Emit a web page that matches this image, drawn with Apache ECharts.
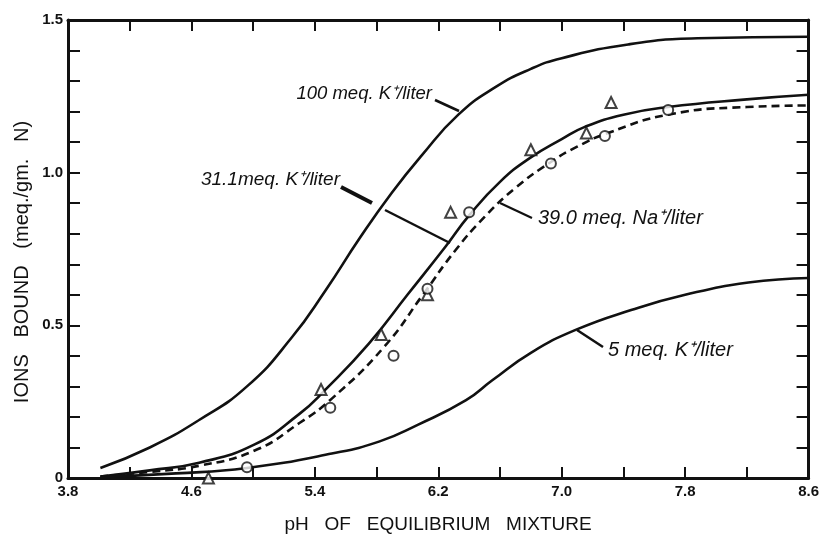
<!DOCTYPE html>
<html>
<head>
<meta charset="utf-8">
<script src="https://cdn.jsdelivr.net/npm/echarts@6/dist/echarts.min.js"></script>
<style>html,body{margin:0;padding:0;background:#fff;}#c{width:822px;height:535px;}</style>
</head>
<body>
<div id="c"></div>
<script>
// Axis ticks and labels
const xTickValues = [3.8, 4.2, 4.6, 5.0, 5.4, 5.8, 6.2, 6.6, 7.0, 7.4, 7.8, 8.2, 8.6];
const xLabelValues = [3.8, 4.6, 5.4, 6.2, 7.0, 7.8, 8.6];
const yTickValues = [0, 0.1, 0.2, 0.3, 0.4, 0.5, 0.6, 0.7, 0.8, 0.9, 1.0, 1.1, 1.2, 1.3, 1.4, 1.5];
const yLabelValues = [0, 0.5, 1.0, 1.5];

// Curve: 100 meq. K+/liter  [pH, ions bound]
const curveK100 = [[4.01,0.033],[4.33,0.10],[4.65,0.19],[4.96,0.30],[5.25,0.46],[5.47,0.615],[5.69,0.785],[5.90,0.935],[6.09,1.055],[6.33,1.19],[6.57,1.28],[6.8,1.34],[7.0,1.375],[7.43,1.42],[7.88,1.44],[8.6,1.445]];
// Curve: 31.1 meq. K+/liter
const curveK31 = [[4.01,0.005],[4.33,0.025],[4.65,0.05],[5.01,0.11],[5.30,0.21],[5.47,0.29],[5.75,0.44],[6.0,0.60],[6.25,0.76],[6.40,0.86],[6.60,0.97],[6.80,1.05],[7.0,1.11],[7.15,1.15],[7.40,1.19],[7.69,1.215],[8.2,1.24],[8.6,1.255]];
// Curve: 39.0 meq. Na+/liter (dashed)
const curveNa39 = [[4.01,0.005],[4.33,0.02],[4.65,0.04],[5.01,0.09],[5.30,0.18],[5.51,0.26],[5.85,0.43],[6.1,0.60],[6.31,0.745],[6.50,0.855],[6.70,0.95],[6.93,1.035],[7.10,1.085],[7.30,1.13],[7.69,1.19],[8.2,1.215],[8.6,1.22]];
// Curve: 5 meq. K+/liter
const curveK5 = [[4.01,0.003],[4.5,0.015],[4.96,0.033],[5.51,0.08],[5.82,0.12],[6.07,0.175],[6.38,0.255],[6.55,0.32],[6.8,0.41],[7.09,0.485],[7.45,0.55],[7.8,0.60],[8.21,0.64],[8.6,0.655]];

// Measured points
const triangles = [[4.71,0.0],[5.44,0.29],[5.83,0.47],[6.13,0.60],[6.28,0.87],[6.80,1.075],[7.16,1.13],[7.32,1.23]];
const circles = [[4.96,0.035],[5.50,0.23],[5.91,0.40],[6.13,0.62],[6.40,0.87],[6.93,1.03],[7.28,1.12],[7.69,1.205]];

const chart = echarts.init(document.getElementById('c'), null, {renderer: 'canvas'});
const ink = '#111';
const tickFont = {color: ink, fontSize: 15, fontFamily: 'Liberation Sans', fontWeight: 'bold'};
const fmt = v => (Math.abs(v) < 1e-9 ? '0' : v.toFixed(1));

function xAx(pos, labels) {
  return {
    type: 'value', position: pos, min: 3.8, max: 8.6,
    axisLine: {show: true, onZero: false, lineStyle: {color: ink, width: 3}},
    axisTick: {show: true, inside: true, length: 11, lineStyle: {color: ink, width: 2}, customValues: xTickValues},
    axisLabel: labels ? Object.assign({show: true, margin: 6, formatter: fmt, customValues: xLabelValues}, tickFont) : {show: false},
    splitLine: {show: false}
  };
}
function yAx(pos, labels) {
  return {
    type: 'value', position: pos, min: 0, max: 1.5,
    axisLine: {show: true, onZero: false, lineStyle: {color: ink, width: 3}},
    axisTick: {show: true, inside: true, length: 12, lineStyle: {color: ink, width: 2}, customValues: yTickValues},
    axisLabel: labels ? Object.assign({show: true, margin: 5, formatter: fmt, customValues: yLabelValues}, tickFont) : {show: false},
    splitLine: {show: false}
  };
}

const lineBase = {type: 'line', smooth: 0.5, showSymbol: false, silent: true, xAxisIndex: 0, yAxisIndex: 0};

const lab = s => 'italic ' + s + 'px "Liberation Sans"';
const option = {
  backgroundColor: '#fff',
  animation: false,
  grid: {left: 68, right: 11, top: 20, bottom: 57, containLabel: false},
  xAxis: [xAx('bottom', true), xAx('top', false)],
  yAxis: [yAx('left', true), yAx('right', false)],
  series: [
    Object.assign({}, lineBase, {name: '100 meq', data: curveK100, lineStyle: {color: ink, width: 2.6}}),
    Object.assign({}, lineBase, {name: '31.1 meq', data: curveK31, lineStyle: {color: ink, width: 2.6}}),
    Object.assign({}, lineBase, {name: '39.0 meq Na', data: curveNa39, lineStyle: {color: ink, width: 2.6, type: [8, 5]}}),
    Object.assign({}, lineBase, {name: '5 meq', data: curveK5, lineStyle: {color: ink, width: 2.6}}),
    {type: 'scatter', data: triangles, symbol: 'triangle', symbolSize: 11, z: 5,
     itemStyle: {color: '#fff', borderColor: ink, borderWidth: 2}},
    {type: 'scatter', data: circles, symbol: 'circle', symbolSize: 10, z: 5,
     itemStyle: {color: '#fff', borderColor: ink, borderWidth: 2}}
  ],
  graphic: [
    // annotations
    {type: 'text', x: 432, y: 94, style: {text: '100 meq. K⁺/liter', font: lab(18.5), fill: ink, align: 'right', verticalAlign: 'middle'}},
    {type: 'line', shape: {x1: 435, y1: 100, x2: 459, y2: 111}, style: {stroke: ink, lineWidth: 2.5}},
    {type: 'text', x: 340, y: 180, style: {text: '31.1meq. K⁺/liter', font: lab(19), fill: ink, align: 'right', verticalAlign: 'middle'}},
    {type: 'line', shape: {x1: 341, y1: 187, x2: 372, y2: 203}, style: {stroke: ink, lineWidth: 4}},
    {type: 'line', shape: {x1: 385, y1: 210, x2: 450, y2: 243}, style: {stroke: ink, lineWidth: 2.5}},
    {type: 'text', x: 538, y: 218, style: {text: '39.0 meq. Na⁺/liter', font: lab(20), fill: ink, align: 'left', verticalAlign: 'middle'}},
    {type: 'line', shape: {x1: 500, y1: 203, x2: 532, y2: 218}, style: {stroke: ink, lineWidth: 2.2}},
    {type: 'text', x: 608, y: 350, style: {text: '5 meq. K⁺/liter', font: lab(20), fill: ink, align: 'left', verticalAlign: 'middle'}},
    {type: 'line', shape: {x1: 577, y1: 330, x2: 603, y2: 347}, style: {stroke: ink, lineWidth: 2.5}},
    // axis titles
    {type: 'text', x: 438, y: 525, style: {text: 'pH   OF   EQUILIBRIUM   MIXTURE', font: '19px "Liberation Sans"', fill: ink, align: 'center', verticalAlign: 'middle'}},
    {type: 'text', x: 22, y: 262, rotation: Math.PI / 2, style: {text: 'IONS   BOUND   (meq./gm.   N)', font: '20px "Liberation Sans"', fill: ink, align: 'center', verticalAlign: 'middle'}}
  ]
};
chart.setOption(option);
</script>
</body>
</html>
